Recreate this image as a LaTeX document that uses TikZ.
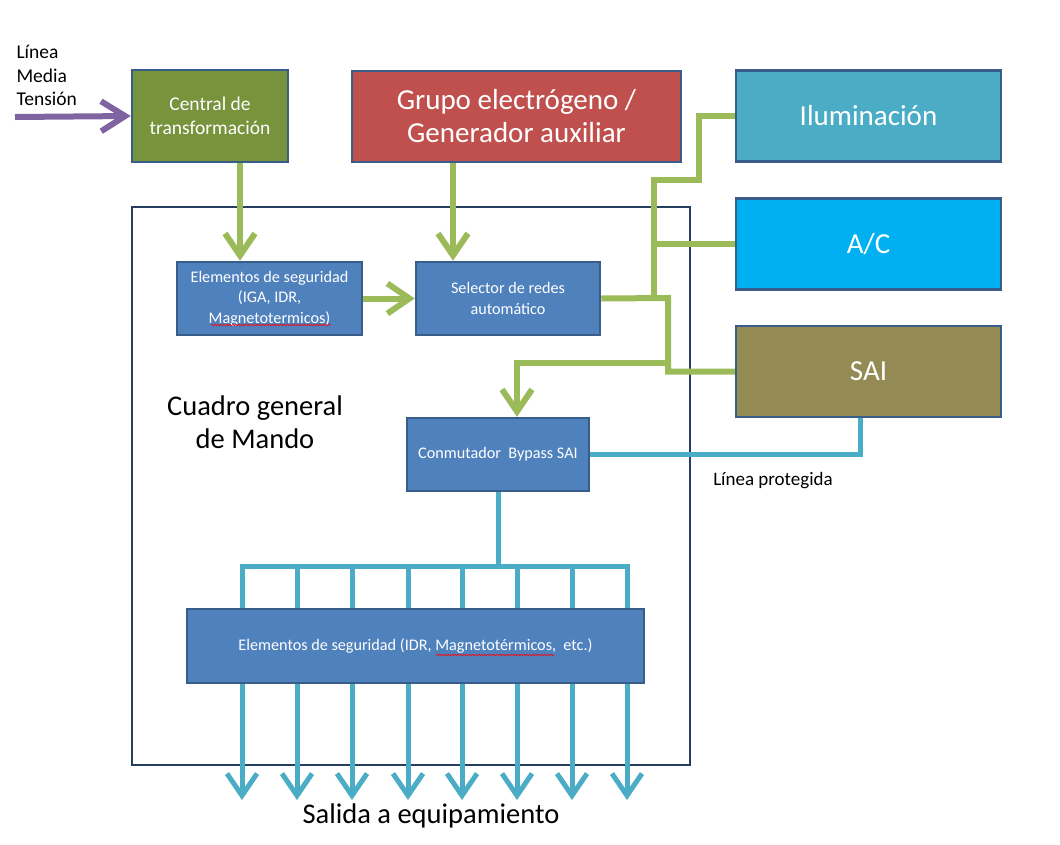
\documentclass[tikz,border=0pt]{standalone}
\usepackage{fontspec}
\setmainfont{Carlito}
\usetikzlibrary{arrows.meta,positioning,decorations.pathmorphing}
\definecolor{boxblue}{HTML}{4F81BD}
\definecolor{boxedge}{HTML}{385D8A}
\definecolor{frameedge}{HTML}{243F60}
\definecolor{lineblue}{HTML}{4BACC6}
\definecolor{linegreen}{HTML}{9BBB59}
\definecolor{linepurple}{HTML}{8064A2}
\definecolor{olivebox}{HTML}{77933C}
\definecolor{redbox}{HTML}{C0504D}
\definecolor{acbox}{HTML}{00B0F0}
\definecolor{saibox}{HTML}{948A54}
\tikzset{
  blockbox/.style = {draw=boxedge, line width=2.5pt, text=white, align=center, inner sep=2pt},
  smallbox/.style = {blockbox, fill=boxblue, font=\fontsize{16.2}{20.5}\selectfont},
  bigbox/.style = {blockbox, font=\fontsize{29}{33}\selectfont, minimum width=265pt, minimum height=91pt},
  greenline/.style = {linegreen, line width=6pt},
  greenarrow/.style = {greenline, -{Straight Barb[length=22pt,width=30pt]}},
  blueline/.style = {lineblue, line width=5pt},
  bluearrow/.style = {blueline, -{Straight Barb[length=22pt,width=30pt]}},
  spellmark/.style = {red, line width=0.6pt, decorate, decoration={snake, amplitude=0.8pt, segment length=3pt}},
}
\begin{document}
\begin{tikzpicture}[x=1pt, y=-1pt]
\useasboundingbox (0,0) rectangle (1060,844);

% Cuadro general de Mando
\node[draw=frameedge, line width=2pt, minimum width=558pt, minimum height=558pt, inner sep=0pt] (cgm) at (411,486) {};
\node[font=\fontsize{28.5}{33}\selectfont, align=center] (cgmlabel) at (255,422) {Cuadro general\\de Mando};

% supplies
\node[blockbox, fill=olivebox, font=\fontsize{19.5}{24}\selectfont, minimum width=156pt, minimum height=92pt] (ct) at (210,116) {Central de\\transformación};
\node[blockbox, fill=redbox, font=\fontsize{29}{33}\selectfont, minimum width=329pt, minimum height=91pt] (ge) at (516.5,116.5) {Grupo electrógeno /\\Generador auxiliar};
\node[font=\fontsize{19.5}{23.5}\selectfont, align=left, anchor=north west] (mtlabel) at (13,42) {Línea\\Media\\Tensión};
\coordinate (mt) at (15,117);

% loads
\node[bigbox, fill=lineblue] (ilu) at (868.5,116) {Iluminación};
\node[bigbox, fill=acbox] (ac) at (868.5,244) {A/C};
\node[bigbox, fill=saibox] (sai) at (868.5,371.5) {SAI};

% inside the cuadro
\node[smallbox, minimum width=185pt, minimum height=73pt] (es1) at (269.5,298.5) {Elementos de seguridad\\(IGA, IDR,\\Magnetotermicos)};
\node[smallbox, minimum width=184pt, minimum height=73pt] (sel) at (508,298.5) {Selector de redes\\automático};
\node[smallbox, minimum width=182pt, minimum height=73pt] (byp) at (498,454.5) {Conmutador\ \ Bypass SAI};
\node[smallbox, minimum width=457pt, minimum height=74pt] (es2) at (415.5,646) {Elementos de seguridad (IDR, Magnetotérmicos,\ \ etc.)};
\node[font=\fontsize{28.5}{33}\selectfont] (salida) at (431,816) {Salida a equipamiento};
\node[font=\fontsize{19}{22}\selectfont] (lp) at (773,481) {Línea protegida};
\draw[spellmark] (211,325) -- (331,325);
\draw[spellmark] (436,655) -- (554,655);

% green network
\coordinate (ga) at (668,298);
\coordinate (gb) at (654,298);
\coordinate (gc) at (654,180);
\coordinate (gd) at (699,180);
\coordinate (ge1) at (668,363);
\coordinate (gf) at (517,363);
\draw[linepurple, line width=6pt, -{Straight Barb[length=24pt,width=30pt]}] (mt) -- (ct.west);
\draw[greenarrow] ([xshift=30pt]ct.south) -- ([xshift=-29.5pt]es1.north);
\draw[greenarrow] ([xshift=-63.5pt]ge.south) -- ([xshift=-55pt]sel.north);
\draw[greenarrow] (es1.east) -- (sel.west);
\draw[greenline] (sel.east) -- (ga) -- (ga |- sai.west) -- (sai.west);
\draw[greenline] (gb) -- (gc) -- (gd) -- (gd |- ilu.west) -- (ilu.west);
\draw[greenline] (gb |- ac.west) -- (ac.west);
\draw[greenarrow] (ge1) -- (gf) -- (gf |- byp.north);

% blue network
\coordinate (bus) at (498,566);
\draw[blueline] (byp.east) -- ([xshift=-8.5pt]sai.south |- byp.east) -- ([xshift=-8.5pt]sai.south);
\draw[blueline] (byp.south) -- (bus);
\draw[blueline, line cap=rect] (242,566) -- (627,566);
\foreach \x in {242,297,352,408,462,517,572,627}{
  \draw[blueline] (\x,566) -- (\x,0 |- es2.north);
  \draw[bluearrow] (\x,0 |- es2.south) -- (\x,800);
}
\end{tikzpicture}
\end{document}
